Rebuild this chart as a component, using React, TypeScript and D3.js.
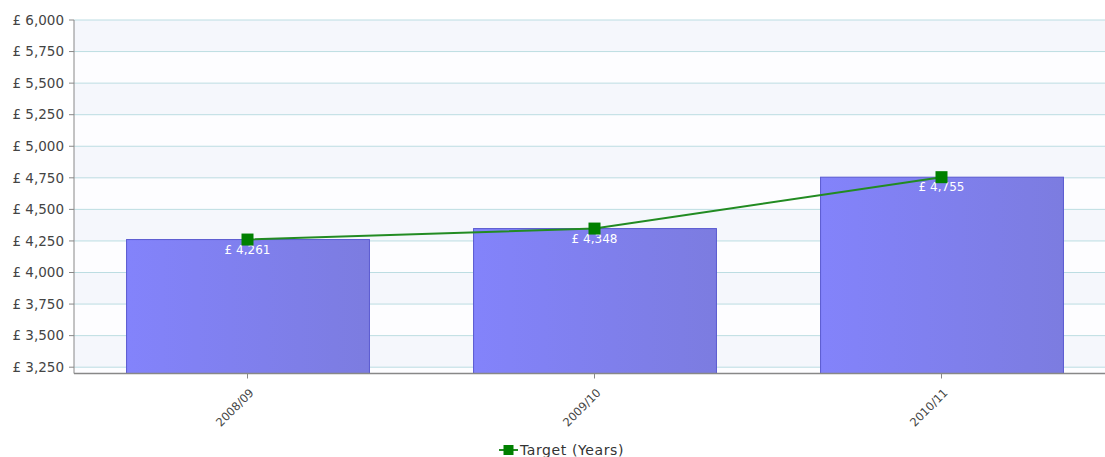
import React, { useEffect, useRef } from "react";
import * as d3 from "d3";

const categories = ["2008/09", "2009/10", "2010/11"];
const barValues = [4261, 4348, 4755];
const targetValues = [4261, 4348, 4755];
const yTicks = [3250, 3500, 3750, 4000, 4250, 4500, 4750, 5000, 5250, 5500, 5750, 6000];
const legendLabel = "Target (Years)";

const W = 1105;
const H = 457;
const M = { left: 74, right: 1115, top: 20, bottom: 373.5 };
const FONT = "'DejaVu Sans', Verdana, sans-serif";

const fmt = (v: number) => "£ " + d3.format(",")(v);

export default function App() {
  const ref = useRef<SVGSVGElement | null>(null);

  useEffect(() => {
    const svg = d3.select(ref.current);
    svg.selectAll("*").remove();

    const x = d3.scaleBand<string>().domain(categories).range([M.left, M.right]).paddingInner(0.3).paddingOuter(0.15);
    const y = d3.scaleLinear().domain([3200, 6000]).range([M.bottom, M.top]);

    const defs = svg.append("defs");
    const grad = defs.append("linearGradient").attr("id", "barGrad").attr("x1", "0").attr("x2", "1").attr("y1", "0").attr("y2", "0");
    grad.append("stop").attr("offset", "0%").attr("stop-color", "#8383fb");
    grad.append("stop").attr("offset", "100%").attr("stop-color", "#7c7ce0");

    // alternating horizontal bands
    const bandEdges = [3200, ...yTicks];
    const bands = svg.append("g");
    for (let i = 0; i < bandEdges.length - 1; i++) {
      const lo = bandEdges[i];
      const hi = bandEdges[i + 1];
      const idxFromTop = yTicks.length - 1 - i;
      bands
        .append("rect")
        .attr("x", M.left)
        .attr("y", y(hi))
        .attr("width", M.right - M.left)
        .attr("height", y(lo) - y(hi))
        .attr("fill", idxFromTop % 2 === 0 ? "#f5f7fc" : "#fdfdff");
    }

    // grid lines
    svg
      .append("g")
      .selectAll("line")
      .data(yTicks)
      .join("line")
      .attr("x1", M.left)
      .attr("x2", M.right)
      .attr("y1", (d) => y(d))
      .attr("y2", (d) => y(d))
      .attr("stroke", "#bcdde2")
      .attr("stroke-width", 1);

    // bars
    svg
      .append("g")
      .selectAll("rect")
      .data(barValues)
      .join("rect")
      .attr("x", (_, i) => x(categories[i])! + 0.5)
      .attr("y", (d) => y(d))
      .attr("width", x.bandwidth())
      .attr("height", (d) => M.bottom - y(d))
      .attr("fill", "url(#barGrad)")
      .attr("stroke", "#5a5ad0")
      .attr("stroke-width", 1);

    // y axis
    const yAxis = svg.append("g").attr("transform", `translate(${M.left},0)`);
    yAxis.append("line").attr("x1", 0).attr("x2", 0).attr("y1", M.top).attr("y2", M.bottom).attr("stroke", "#888").attr("stroke-width", 1);
    yTicks.forEach((t) => {
      yAxis.append("line").attr("x1", -5).attr("x2", 0).attr("y1", y(t)).attr("y2", y(t)).attr("stroke", "#888");
      yAxis
        .append("text")
        .attr("x", -10)
        .attr("y", y(t))
        .attr("dy", "0.35em")
        .attr("text-anchor", "end")
        .attr("font-family", FONT)
        .attr("font-size", 13.5)
        .attr("fill", "#444")
        .text(fmt(t));
    });

    // x axis
    const xAxis = svg.append("g");
    xAxis.append("line").attr("x1", M.left).attr("x2", M.right).attr("y1", M.bottom).attr("y2", M.bottom).attr("stroke", "#888").attr("stroke-width", 1.5);
    categories.forEach((c) => {
      const cx = x(c)! + x.bandwidth() / 2;
      xAxis.append("line").attr("x1", cx).attr("x2", cx).attr("y1", M.bottom).attr("y2", M.bottom + 5).attr("stroke", "#888");
      xAxis
        .append("text")
        .attr("transform", `translate(${cx + 7},${M.bottom + 20}) rotate(-45)`)
        .attr("text-anchor", "end")
        .attr("font-family", FONT)
        .attr("font-size", 11.5)
        .attr("fill", "#444")
        .text(c);
    });

    // target line
    const cxOf = (i: number) => x(categories[i])! + x.bandwidth() / 2;
    const line = d3
      .line<number>()
      .x((_, i) => cxOf(i))
      .y((d) => y(d));
    svg.append("path").datum(targetValues).attr("d", line).attr("fill", "none").attr("stroke", "#228b22").attr("stroke-width", 2);

    // value labels
    svg
      .append("g")
      .selectAll("text")
      .data(barValues)
      .join("text")
      .attr("x", (_, i) => cxOf(i))
      .attr("y", (d) => y(d) + 14)
      .attr("text-anchor", "middle")
      .attr("font-family", FONT)
      .attr("font-size", 12)
      .attr("fill", "#ffffff")
      .text((d) => fmt(d));

    // markers
    svg
      .append("g")
      .selectAll("rect")
      .data(targetValues)
      .join("rect")
      .attr("x", (_, i) => cxOf(i) - 6)
      .attr("y", (d) => y(d) - 6)
      .attr("width", 12)
      .attr("height", 12)
      .attr("fill", "#008000");

    // legend
    const lg = svg.append("g").attr("transform", `translate(499,450)`);
    lg.append("line").attr("x1", 0).attr("x2", 19).attr("y1", 0).attr("y2", 0).attr("stroke", "#228b22").attr("stroke-width", 2);
    lg.append("rect").attr("x", 4.5).attr("y", -5).attr("width", 10).attr("height", 10).attr("fill", "#008000");
    lg.append("text")
      .attr("x", 21)
      .attr("y", 0)
      .attr("dy", "0.35em")
      .attr("font-family", FONT)
      .attr("font-size", 14)
      .attr("letter-spacing", 0.6)
      .attr("fill", "#333")
      .text(legendLabel);
  }, []);

  return (
    <svg
      ref={ref}
      width={W}
      height={H}
      style={{ position: "absolute", left: 0, top: 0, background: "#ffffff" }}
    />
  );
}
